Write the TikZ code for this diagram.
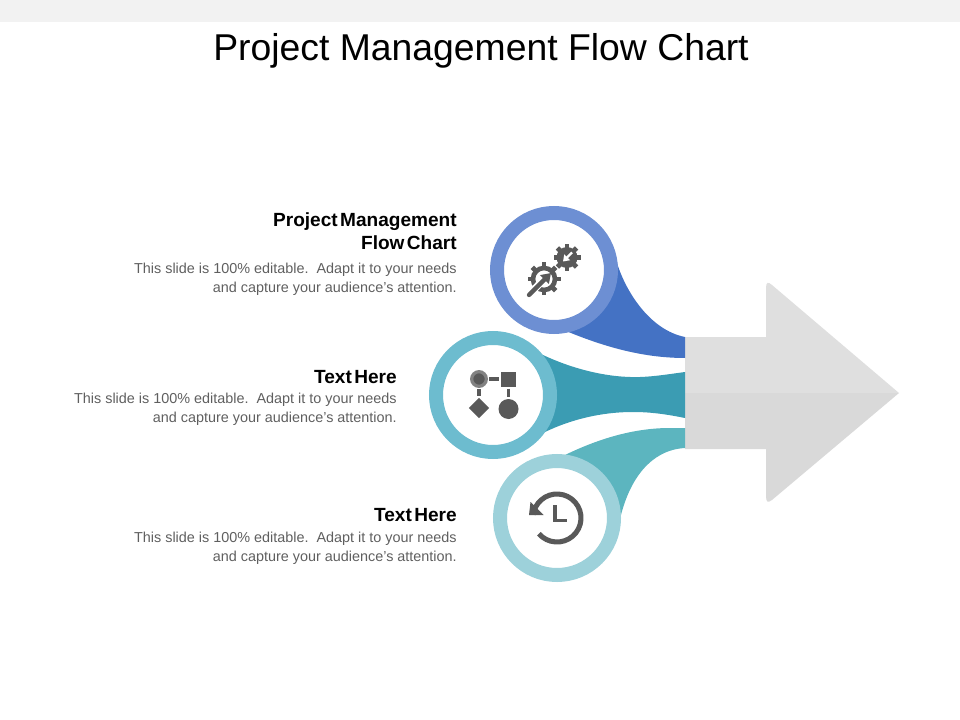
\documentclass[tikz,border=0pt]{standalone}
\usepackage{fontspec}
\setmainfont{Liberation Sans}
\usetikzlibrary{shapes.geometric,arrows.meta}
\definecolor{bandgray}{HTML}{F2F2F2}
\definecolor{ringblue}{HTML}{6D8FD3}
\definecolor{flowblue}{HTML}{4472C4}
\definecolor{ringteal}{HTML}{6DBCCF}
\definecolor{flowteal}{HTML}{3B9CB3}
\definecolor{ringpale}{HTML}{9DD1DA}
\definecolor{flowpale}{HTML}{5CB5BF}
\definecolor{arrowtop}{HTML}{DFDFDF}
\definecolor{arrowlow}{HTML}{D9D9D9}
\definecolor{icongray}{HTML}{595959}
\definecolor{bodygray}{HTML}{5F5F5F}
\newcommand{\wordgap}{\hspace{1.8pt}}
\tikzstyle{ring} = [circle, draw, fill=white, line width=10.5pt, minimum size=85.5pt, inner sep=0pt]
\tikzstyle{headtext} = [anchor=north east, align=right, inner sep=0pt, text=black, font=\fontsize{14.3}{17.25}\selectfont\bfseries]
\tikzstyle{bodytext} = [anchor=north east, align=right, inner sep=0pt, text=bodygray, font=\fontsize{10.8}{13.9}\selectfont]
\tikzstyle{link} = [draw=icongray, line width=2.4pt]
\tikzstyle{tooth} = [draw=icongray, line width=3.6pt]
\begin{document}
\begin{tikzpicture}[x=0.75pt,y=-0.75pt]
\useasboundingbox (0,0) rectangle (960,720);
\fill [bandgray] (0,0) rectangle (960,22);
\node (title) [inner sep=0pt, font=\fontsize{28}{32}\selectfont] at (481,51) {Project Management Flow Chart};

\fill [arrowtop] (685,393) -- (685,337) -- (766,337) -- (766,288) .. controls (766,282) and (768,281.5) .. (772,285) -- (899,393) -- cycle;
\fill [arrowlow] (685,393) -- (685,449) -- (766,449) -- (766,496) .. controls (766,502.5) and (768,503) .. (772,500) -- (899,393) -- cycle;

\fill [flowblue] (617,263) .. controls (626,292) and (650,330) .. (685,337) -- (685,358) .. controls (640,358) and (600,345) .. (566,331) -- (554,270) -- cycle;
\fill [flowteal] (543,355) .. controls (575,370) and (610,378) .. (640,377) .. controls (655,376.5) and (670,374) .. (685,372) -- (685,418) .. controls (665,414) and (650,412) .. (633,412) .. controls (600,412) and (570,420) .. (545,432) -- (493,395) -- cycle;
\fill [flowpale] (565,455) .. controls (600,438) and (635,428) .. (670,428) -- (685,428) -- (685,448) .. controls (650,450) and (630,480) .. (621,515) -- (557,518) -- cycle;

\node (ringa) [ring, draw=ringblue] at (554,270) {};
\node (ringb) [ring, draw=ringteal] at (493,395) {};
\node (ringc) [ring, draw=ringpale] at (557,518) {};

\foreach \a in {0,45,...,315} {
    \draw [tooth] (544,279) ++(\a:11) -- ++(\a:5.5);
    \draw [tooth] (567,257.5) ++(\a:8) -- ++(\a:5.5);
}
\draw [draw=icongray, line width=3.5pt] (544,279) circle (11);
\fill [icongray] (567,257.5) circle (10.5);
\draw [white, line width=5.5pt] (526,298) -- (547,276);
\draw [icongray, line width=3.2pt, line cap=round, -{Triangle[length=7pt,width=9pt]}] (529,295) -- (551,273);
\draw [white, line width=1.8pt, -{Triangle[length=4.5pt,width=6pt]}] (572,252.5) -- (563,261.5);

\node (circa) [circle, draw=icongray!75!white, fill=icongray, line width=2.4pt, minimum size=11pt, inner sep=0pt, outer sep=2pt] at (479,379) {};
\node (squarea) [rectangle, fill=icongray, minimum size=11.25pt, inner sep=0pt, outer sep=1.5pt] at (508.5,379) {};
\node (diamonda) [diamond, fill=icongray, minimum size=16pt, inner sep=0pt, outer sep=1pt] at (479,408) {};
\node (circb) [circle, fill=icongray, minimum size=15pt, inner sep=0pt, outer sep=1.5pt] at (508.5,409) {};
\draw [link] (circa) -- (squarea);
\draw [link] (circa) -- (diamonda);
\draw [link] (squarea) -- (circb);

\draw [icongray, line width=3.8pt] (557,518) ++(139:24) arc (139:-172:24);
\fill [icongray] (529,515) -- (530.5,502) -- (543.5,515) -- cycle;
\draw [icongray, line width=2.6pt] (555,505) -- (555,520.5) -- (567,520.5);

\node (heada) [headtext] at (457,212) {Project\wordgap Management\\Flow\wordgap Chart};
\node (bodya) [bodytext] at (457,263) {This slide is 100\% editable.\ \ Adapt it to your needs\\and capture your audience's attention.};
\node (headb) [headtext] at (397,370) {Text\wordgap Here};
\node (bodyb) [bodytext] at (397,393) {This slide is 100\% editable.\ \ Adapt it to your needs\\and capture your audience's attention.};
\node (headc) [headtext] at (457,508) {Text\wordgap Here};
\node (bodyc) [bodytext] at (457,532) {This slide is 100\% editable.\ \ Adapt it to your needs\\and capture your audience's attention.};
\end{tikzpicture}
\end{document}
